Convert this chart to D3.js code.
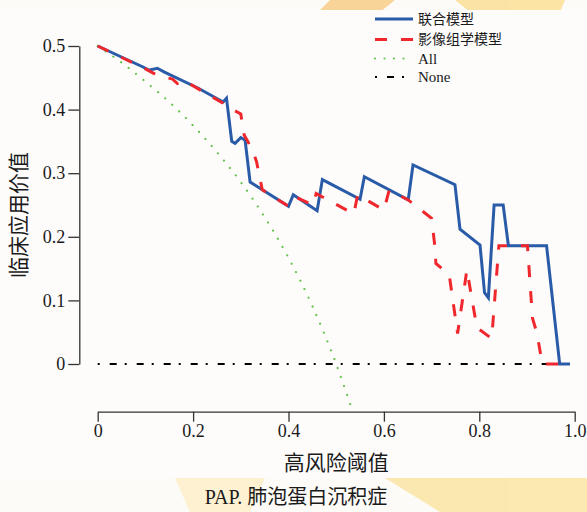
<!DOCTYPE html>
<html>
<head>
<meta charset="utf-8">
<script src="https://cdn.jsdelivr.net/npm/d3@7/dist/d3.min.js"></script>
<style>
  html, body { margin: 0; padding: 0; background: #fdfbf7; }
  svg { display: block; }
  .tick text { font-family: "Liberation Serif", "DejaVu Serif", serif; font-size: 18px; fill: #1a1a1a; }
  .axis path, .axis line { stroke: #333; stroke-width: 1.3; }
</style>
</head>
<body>
<div id="chart"></div>
<script>
// threshold / net benefit pairs
const jointT = [0, 0.095, 0.107, 0.125, 0.14, 0.21, 0.263, 0.270, 0.281, 0.288, 0.300, 0.309, 0.3195, 0.400, 0.410, 0.460, 0.471, 0.550, 0.559, 0.651, 0.661, 0.749, 0.7595, 0.8015, 0.811, 0.819, 0.831, 0.850, 0.861, 0.941, 0.9685, 0.99];
const jointNB = [0.5, 0.467, 0.462, 0.465, 0.459, 0.434, 0.412, 0.418, 0.350, 0.347, 0.356, 0.352, 0.286, 0.248, 0.266, 0.241, 0.290, 0.259, 0.2945, 0.258, 0.313, 0.282, 0.212, 0.187, 0.112, 0.104, 0.25, 0.25, 0.186, 0.186, 0, 0];

const radT = [0, 0.10, 0.127, 0.157, 0.167, 0.18, 0.21, 0.263, 0.283, 0.300, 0.307, 0.325, 0.333, 0.345, 0.400, 0.4157, 0.452, 0.458, 0.537, 0.545, 0.600, 0.611, 0.651, 0.700, 0.707, 0.709, 0.737, 0.7545, 0.774, 0.795, 0.826, 0.841, 0.901, 0.9115, 0.921, 0.932, 0.99];
const radNB = [0.5, 0.464, 0.453, 0.448, 0.441, 0.4465, 0.433, 0.410, 0.400, 0.393, 0.360, 0.336, 0.318, 0.274, 0.248, 0.262, 0.250, 0.268, 0.236, 0.266, 0.242, 0.273, 0.258, 0.229, 0.184, 0.158, 0.140, 0.048, 0.148, 0.057, 0.040, 0.186, 0.186, 0.072, 0.048, 0, 0];

const allT = [0, 0.05, 0.1, 0.15, 0.2, 0.25, 0.3, 0.35, 0.4, 0.45, 0.5, 0.533];
const allNB = [0.5, 0.474, 0.444, 0.412, 0.375, 0.333, 0.286, 0.231, 0.167, 0.091, 0, -0.071];

const noneT = [0, 0.99];
const noneNB = [0, 0];

const xTicks = [0, 0.2, 0.4, 0.6, 0.8, 1.0];
const xTickLabels = ['0', '0.2', '0.4', '0.6', '0.8', '1.0'];
const yTicks = [0, 0.1, 0.2, 0.3, 0.4, 0.5];
const yTickLabels = ['0', '0.1', '0.2', '0.3', '0.4', '0.5'];

const seriesNames = ['联合模型', '影像组学模型', 'All', 'None'];

const W = 587, H = 512;
const cjk = '"Noto Sans CJK SC", "Noto Sans", sans-serif';
const serif = '"Liberation Serif", "DejaVu Serif", serif';

const svg = d3.select('#chart').append('svg')
  .attr('width', W)
  .attr('height', H);

// watermark bits outside the white panel
const wm = svg.append('g').attr('opacity', 0.75);
wm.append('path').attr('d', 'M330,0 L395,0 L380,12 L318,12 Z').attr('fill', '#f8c77a');
wm.append('path').attr('d', 'M455,0 L565,0 L560,12 L470,12 Z').attr('fill', '#fbdc8a');
wm.append('path').attr('d', 'M385,478 L587,478 L587,512 L440,512 Z').attr('fill', '#fbe29a');
wm.append('path').attr('d', 'M175,478 L265,478 L250,512 L190,512 Z').attr('fill', '#fcedc4');

// white panel behind the chart
svg.append('rect')
  .attr('x', 0).attr('y', 10)
  .attr('width', W).attr('height', 468)
  .attr('fill', '#fdfcfb');

const x = d3.scaleLinear().domain([0, 1]).range([97.7, 574.7]);
const y = d3.scaleLinear().domain([0, 0.5]).range([364, 46]);
const xAxisY = 411.7;
const yAxisX = 79.3;

svg.append('defs').append('clipPath')
  .attr('id', 'plot-clip')
  .append('rect')
  .attr('x', 0).attr('y', 0)
  .attr('width', W).attr('height', xAxisY - 1);

// axes
const xAxis = d3.axisBottom(x)
  .tickValues(xTicks)
  .tickFormat((d, i) => xTickLabels[i])
  .tickSize(10)
  .tickSizeOuter(0)
  .tickPadding(3);

svg.append('g')
  .attr('class', 'axis')
  .attr('transform', `translate(0,${xAxisY})`)
  .call(xAxis);

const yAxis = d3.axisLeft(y)
  .tickValues(yTicks)
  .tickFormat((d, i) => yTickLabels[i])
  .tickSize(11)
  .tickSizeOuter(0)
  .tickPadding(3);

svg.append('g')
  .attr('class', 'axis')
  .attr('transform', `translate(${yAxisX},0)`)
  .call(yAxis);

// curves
const toPts = (ts, vs) => ts.map((t, i) => ({ t, v: vs[i] }));
const line = d3.line().x(d => x(d.t)).y(d => y(d.v));
const smooth = d3.line().x(d => x(d.t)).y(d => y(d.v)).curve(d3.curveMonotoneX);

const plot = svg.append('g').attr('clip-path', 'url(#plot-clip)');

const styles = [
  { stroke: '#000000', width: 2, dash: '2,10,7,8', cap: 'butt' },
  { stroke: '#62c44c', width: 2.2, dash: '0.01,9.5', cap: 'round' },
  { stroke: '#2a5ba8', width: 3, dash: null, cap: 'butt' },
  { stroke: '#f0282d', width: 3, dash: '12,14', cap: 'butt' }
];

plot.append('path')
  .datum(toPts(noneT, noneNB))
  .attr('d', line)
  .attr('fill', 'none')
  .attr('stroke', styles[0].stroke)
  .attr('stroke-width', styles[0].width)
  .attr('stroke-dasharray', styles[0].dash);

plot.append('path')
  .datum(toPts(allT, allNB))
  .attr('d', smooth)
  .attr('fill', 'none')
  .attr('stroke', styles[1].stroke)
  .attr('stroke-width', styles[1].width)
  .attr('stroke-linecap', 'round')
  .attr('stroke-dasharray', styles[1].dash);

plot.append('path')
  .datum(toPts(jointT, jointNB))
  .attr('d', line)
  .attr('fill', 'none')
  .attr('stroke', styles[2].stroke)
  .attr('stroke-width', styles[2].width)
  .attr('stroke-linejoin', 'miter');

plot.append('path')
  .datum(toPts(radT, radNB))
  .attr('d', line)
  .attr('fill', 'none')
  .attr('stroke', styles[3].stroke)
  .attr('stroke-width', styles[3].width)
  .attr('stroke-dasharray', styles[3].dash);

// legend: joint, radiomics, All, None
const legendOrder = [2, 3, 1, 0];
const legendRows = [19, 39.5, 58.5, 77];
const legend = svg.append('g');
legendOrder.forEach((s, i) => {
  const st = styles[s];
  legend.append('line')
    .attr('x1', 375).attr('x2', 413)
    .attr('y1', legendRows[i]).attr('y2', legendRows[i])
    .attr('stroke', st.stroke)
    .attr('stroke-width', st.width)
    .attr('stroke-linecap', st.cap)
    .attr('stroke-dasharray', st.dash);
  legend.append('text')
    .attr('x', 418)
    .attr('y', legendRows[i])
    .attr('dy', '0.35em')
    .style('font-family', i < 2 ? cjk : serif)
    .style('font-size', i < 2 ? '14px' : '15px')
    .attr('fill', '#1a1a1a')
    .text(seriesNames[i]);
});

// axis titles and caption
svg.append('text')
  .attr('transform', `translate(19,215) rotate(-90)`)
  .attr('text-anchor', 'middle')
  .attr('dy', '0.35em')
  .style('font-family', cjk)
  .style('font-size', '21px')
  .attr('fill', '#1a1a1a')
  .text('临床应用价值');

svg.append('text')
  .attr('x', x(0.5))
  .attr('y', 463)
  .attr('text-anchor', 'middle')
  .attr('dy', '0.35em')
  .style('font-family', cjk)
  .style('font-size', '21px')
  .attr('fill', '#1a1a1a')
  .text('高风险阈值');

const cap = svg.append('text')
  .attr('x', 296)
  .attr('y', 497)
  .attr('text-anchor', 'middle')
  .attr('dy', '0.35em')
  .style('font-size', '20px')
  .attr('fill', '#1a1a1a');
cap.append('tspan').style('font-family', serif).text('PAP. ');
cap.append('tspan').style('font-family', cjk).text('肺泡蛋白沉积症');
</script>
</body>
</html>
